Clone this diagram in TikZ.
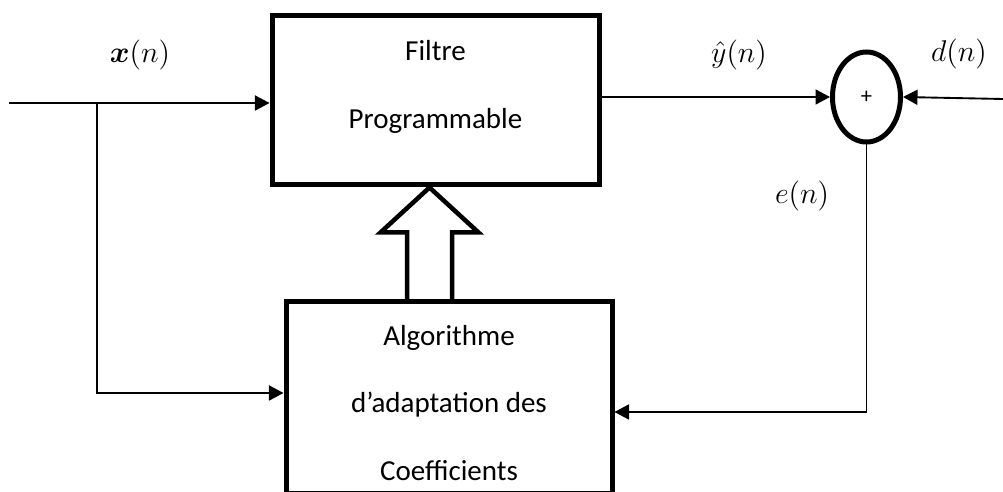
\documentclass[tikz,border=0pt]{standalone}
\usepackage{amsmath}
\usepackage{fontspec}
\setmainfont{Carlito}
\usetikzlibrary{arrows.meta,calc,shapes.geometric}
\newdimen\pxu \pxu=0.4pt
\tikzset{
  % Heavy-bordered blocks of the adaptive filter.
  adf/bloc/.style={
    draw=black, line width=2pt, fill=white, inner sep=0pt
  },
  % Summing junction.
  adf/somme/.style={
    adf/bloc, ellipse, minimum width=68\pxu, minimum height=90\pxu,
    font=\fontsize{9}{10}\selectfont
  },
  % Text inside the blocks, widely spaced lines.
  adf/txt/.style={
    align=center, font=\fontsize{11.6}{27}\selectfont
  },
  % Signal names.
  adf/signal/.style={
    font=\fontsize{12.4}{14}\selectfont, inner sep=1pt
  },
  % Thin signal wires.
  adf/fil/.style={
    line width=0.75pt, draw=black
  },
  adf/fleche/.style={
    adf/fil, -{Triangle[length=5.8pt,width=6pt]}
  },
  % Hollow block arrow for the coefficient update.
  adf/creux/.style={
    draw=black, line width=1.8pt, line join=miter
  },
}
\begin{document}
\begin{tikzpicture}[x=0.4pt,y=-0.4pt]
  \useasboundingbox (0,0) rectangle (1003,492);
  % blocks
  \node[adf/bloc, minimum width=327\pxu, minimum height=169\pxu] (filtre) at (435.5,100.5) {};
  \node[adf/txt] (filtreT) at (435.5,87) {Filtre\\Programmable};
  \node[adf/bloc, minimum width=326\pxu, minimum height=192\pxu] (algo) at (449,398) {};
  \node[adf/txt] (algoT) at (449,403) {Algorithme\\d’adaptation des\\Coefficients};
  \node[adf/somme] (somme) at (866.5,97) {+};
  % signal names
  \node[adf/signal] (lx) at (140,55)  {$\boldsymbol{x}(n)$};
  \node[adf/signal] (ly) at (739,55)  {$\hat{y}(n)$};
  \node[adf/signal] (ld) at (959,54)  {$d(n)$};
  \node[adf/signal] (le) at (802,196) {$e(n)$};
  % wires
  \coordinate (xin) at (9,103);
  \coordinate (br)  at (97,103);
  \coordinate (din) at (1003,99);
  \draw[adf/fleche] (xin) -- (xin -| filtre.west);
  \draw[adf/fleche] (br) |- ([yshift=2pt]algo.west);
  \draw[adf/fleche] (filtre.east |- somme.west) -- (somme.west);
  \draw[adf/fleche] (din) -- (somme.east);
  \draw[adf/fleche] (somme.south) |- ([yshift=-5.6pt]algo.east);
  % coefficient update
  \coordinate (axe) at (429.5,0);
  \coordinate (pointe) at (filtre.south -| axe);
  \coordinate (pied) at (algo.north -| axe);
  \draw[adf/creux] ($(pied)+(-22.5,0)$) -- ($(pointe)+(-22.5,45)$) -- ($(pointe)+(-49,45)$)
    -- (pointe) -- ($(pointe)+(49,45)$) -- ($(pointe)+(22.5,45)$) -- ($(pied)+(22.5,0)$);
\end{tikzpicture}
\end{document}
